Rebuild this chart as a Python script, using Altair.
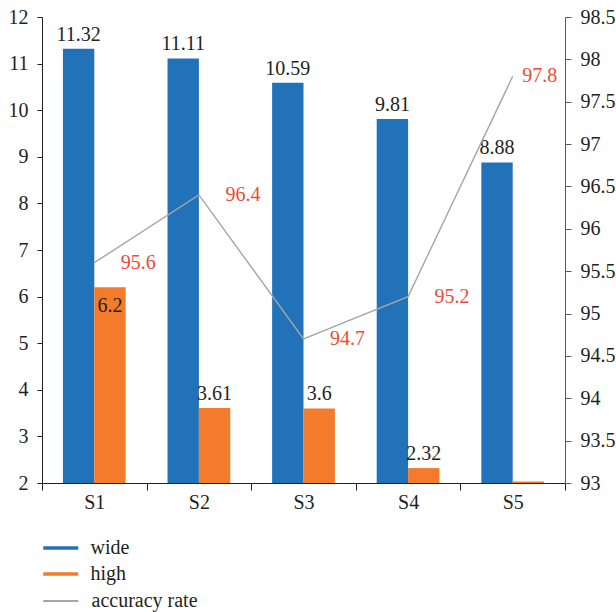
import altair as alt
import pandas as pd

# Values per sample
categories = ["S1", "S2", "S3", "S4", "S5"]
wide = [11.32, 11.11, 10.59, 9.81, 8.88]
high = [6.2, 3.61, 3.6, 2.32, 2.03]
high_labels = ["6.2", "3.61", "3.6", "2.32", ""]
accuracy = [95.6, 96.4, 94.7, 95.2, 97.8]

left_ticks = list(range(2, 13))
right_ticks = [93 + 0.5 * i for i in range(12)]

BLUE = "#2272BA"
ORANGE = "#F47B2C"
GREY = "#A6A6A6"
RED = "#F04B34"
INK = "#231F20"
FONT = "'Liberation Serif', 'DejaVu Serif', serif"
FS = 20

bars_df = pd.DataFrame({
    "category": categories * 2,
    "series": ["wide"] * 5 + ["high"] * 5,
    "value": wide + high,
    "label": [f"{v:g}" for v in wide] + high_labels,
})

line_df = pd.DataFrame({
    "category": categories,
    "accuracy": accuracy,
    "series": ["accuracy rate"] * 5,
    "label": [f"{v:g}" for v in accuracy],
})

x_enc = alt.X(
    "category:N",
    sort=categories,
    scale=alt.Scale(paddingInner=0, paddingOuter=0),
    axis=alt.Axis(
        title=None, labelAngle=0, tickBand="extent", tickSize=7,
        labelPadding=2, domainColor=INK, tickColor=INK,
        labelFont=FONT, labelFontSize=FS, labelColor=INK,
    ),
)
x_off = alt.XOffset(
    "series:N",
    sort=["wide", "high"],
    scale=alt.Scale(domain=["wide", "high"], paddingInner=0, paddingOuter=0.667),
)
y_left = alt.Y(
    "value:Q",
    scale=alt.Scale(domain=[2, 12], zero=False, nice=False),
    axis=alt.Axis(
        title=None, values=left_ticks, grid=False, tickSize=5,
        labelPadding=9, domainColor=INK, tickColor=INK,
        labelFont=FONT, labelFontSize=FS, labelColor=INK,
    ),
)

bars = alt.Chart(bars_df).mark_bar().encode(
    x=x_enc,
    xOffset=x_off,
    y=y_left,
    y2=alt.datum(2),
    color=alt.Color(
        "series:N",
        scale=alt.Scale(domain=["wide", "high"], range=[BLUE, ORANGE]),
        legend=alt.Legend(
            title=None, orient="none", legendX=8.75, legendY=521,
            symbolType="M-2,-0.2H2V0.2H-2Z", symbolSize=306,
            symbolStrokeWidth=0, labelOffset=19.75, rowPadding=6,
            padding=0, labelFont=FONT, labelFontSize=FS, labelColor=INK,
        ),
    ),
)

bar_text_base = alt.Chart(bars_df).encode(
    x=x_enc, xOffset=x_off, y=y_left, text="label:N"
)
bar_labels = bar_text_base.transform_filter(
    "datum.label != '' && !(datum.category == 'S1' && datum.series == 'high')"
).mark_text(baseline="alphabetic", dy=-8, font=FONT, fontSize=FS, color=INK)
bar_inside = bar_text_base.transform_filter(
    "datum.category == 'S1' && datum.series == 'high'"
).mark_text(baseline="middle", dy=19, font=FONT, fontSize=FS, color=INK)

left_layer = alt.layer(bars, bar_labels, bar_inside)

y_right = alt.Y(
    "accuracy:Q",
    scale=alt.Scale(domain=[93, 98.5], zero=False, nice=False),
    axis=alt.Axis(
        title=None, orient="right", values=right_ticks, format="~g",
        grid=False, tickSize=6, labelPadding=9,
        domainColor="#595959", tickColor="#595959",
        labelFont=FONT, labelFontSize=FS, labelColor=INK,
    ),
)

line = alt.Chart(line_df).mark_line(strokeWidth=1.4).encode(
    x=x_enc,
    y=y_right,
    stroke=alt.Stroke(
        "series:N",
        scale=alt.Scale(domain=["accuracy rate"], range=[GREY]),
        legend=alt.Legend(
            title=None, orient="none", legendX=8.75, legendY=574,
            symbolType="M-2,0H2", symbolSize=306, symbolStrokeWidth=2,
            labelOffset=20.75, padding=0,
            labelFont=FONT, labelFontSize=FS, labelColor=INK,
        ),
    ),
)

line_text_base = alt.Chart(line_df).encode(x=x_enc, y=y_right, text="label:N")
line_labels = line_text_base.transform_filter(
    "datum.category != 'S5'"
).mark_text(baseline="middle", dx=44, font=FONT, fontSize=FS, color=RED)
line_last = line_text_base.transform_filter(
    "datum.category == 'S5'"
).mark_text(baseline="middle", dx=27, font=FONT, fontSize=FS, color=RED)

right_layer = alt.layer(line, line_labels, line_last)

chart = (
    alt.layer(left_layer, right_layer)
    .resolve_scale(y="independent")
    .properties(
        width=523,
        height=466,
        padding={"left": 42, "top": 17, "right": 51, "bottom": 129},
        autosize=alt.AutoSizeParams(type="none"),
    )
    .configure(font=FONT)
    .configure_view(stroke=None)
)

chart.save("out.html", embed_options={"renderer": "svg", "actions": False})
